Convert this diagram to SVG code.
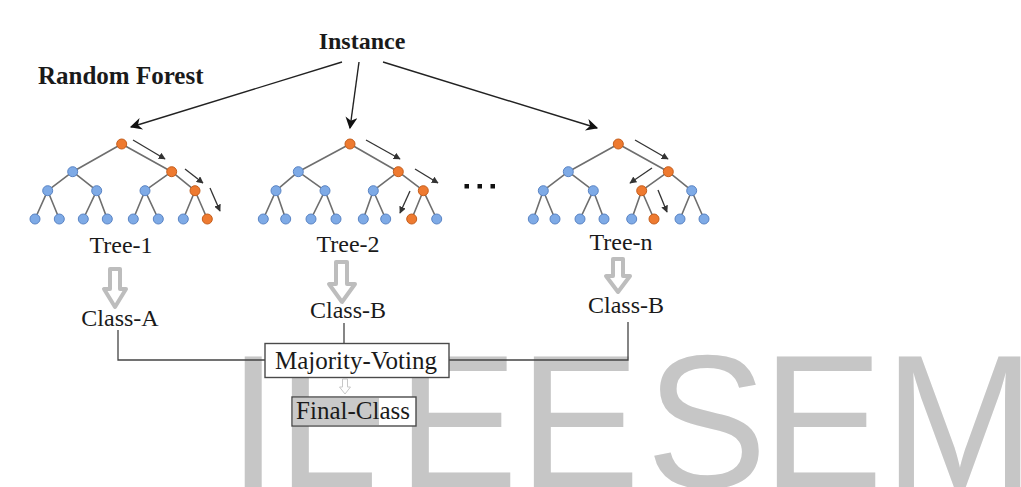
<svg xmlns="http://www.w3.org/2000/svg" width="1021" height="487" viewBox="0 0 1021 487">
<defs>
<style>
.bg{fill:#ffffff}
.wm{font-family:"Liberation Sans",Arial,sans-serif;font-size:189px;fill:#c6c6c6}
.lbl{font-family:"Liberation Serif","Times New Roman",serif;font-size:24px;fill:#1a1a1a;text-anchor:middle}
.bold{font-weight:bold}
.edge{stroke:#6e6e6e;stroke-width:1.6;fill:none}
.b{fill:#7eaae6;stroke:#5a84c4;stroke-width:1}
.o{fill:#ee7a30;stroke:#c55e1c;stroke-width:1}
.tarr{stroke:#333;stroke-width:1.3;fill:none;marker-end:url(#sh)}
.iarr{stroke:#222;stroke-width:1.4;fill:none;marker-end:url(#bh)}
.conn{stroke:#444;stroke-width:1.3;fill:none}
.blk{fill:#ffffff;stroke:#bdbdbd;stroke-width:4;stroke-linejoin:round}
.box{fill:#ffffff;stroke:#4a4a4a;stroke-width:1.4}
</style>
<marker id="sh" viewBox="0 0 10 10" refX="9" refY="5" markerWidth="7" markerHeight="7" markerUnits="userSpaceOnUse" orient="auto"><path d="M0,0 L10,5 L0,10 z" fill="#333"/></marker>
<marker id="bh" viewBox="0 0 10 10" refX="9" refY="5" markerWidth="14" markerHeight="12" markerUnits="userSpaceOnUse" orient="auto"><path d="M0,0 L10,5 L0,10 L3,5 z" fill="#111"/></marker>
</defs>
<rect class="bg" x="0" y="0" width="1021" height="487"/>

<g id="watermark">
<text class="wm" transform="translate(228,487) scale(0.96,1)">I</text>
<text class="wm" transform="translate(277,487) scale(0.96,1)">L</text>
<text class="wm" transform="translate(397,487) scale(0.96,1)">E</text>
<text class="wm" transform="translate(519,487) scale(0.96,1)">E</text>
<text class="wm" transform="translate(646,487) scale(0.96,1)">S</text>
<text class="wm" transform="translate(762,487) scale(0.96,1)">E</text>
<text class="wm" transform="translate(884,487) scale(0.96,1)">M</text>
</g>

<g id="title">
<text class="lbl bold" x="38" y="84" style="text-anchor:start;font-size:25px">Random Forest</text>
</g>
<g id="instance">
<text class="lbl bold" x="362" y="49">Instance</text>
</g>

<g id="connectors">
<line class="iarr" x1="342" y1="62" x2="131" y2="127"/>
<line class="iarr" x1="359" y1="62" x2="350" y2="128"/>
<line class="iarr" x1="383" y1="62" x2="597" y2="128"/>
<polyline class="conn" points="118,330 118,360 265,360"/>
<line class="conn" x1="344" y1="323" x2="344" y2="343.5"/>
<polyline class="conn" points="628,322 628,360 449,360"/>
<path class="blk" d="M110,269 h10 v20 h6 l-11,18 l-11,-18 h6 z"/>
<path class="blk" d="M336,262 h11 v22 h8 l-13,18 l-13,-18 h7 z"/>
<path class="blk" d="M613,259 h10 v17 h7 l-12,16 l-12,-16 h7 z"/>
<path d="M342.5,379 h5 v8 h3 l-5.5,7 l-5.5,-7 h3 z" fill="#fff" stroke="#c8c8c8" stroke-width="1"/>
</g>

<g id="tree-1">
<path class="edge" d="M121.7,144 L72.7,171.7 M121.7,144 L171.7,171.7 M72.7,171.7 L47.7,190.7 M72.7,171.7 L96.7,190.7 M171.7,171.7 L145,190.7 M171.7,171.7 L195,190.7 M47.7,190.7 L35,219 M47.7,190.7 L59.3,219 M96.7,190.7 L83.3,219 M96.7,190.7 L107.3,219 M145,190.7 L133.3,219 M145,190.7 L158.3,219 M195,190.7 L183.3,219 M195,190.7 L207.3,219"/>
<circle class="o" cx="121.7" cy="144" r="5"/>
<circle class="b" cx="72.7" cy="171.7" r="5"/>
<circle class="o" cx="171.7" cy="171.7" r="5"/>
<circle class="b" cx="47.7" cy="190.7" r="5"/>
<circle class="b" cx="96.7" cy="190.7" r="5"/>
<circle class="b" cx="145" cy="190.7" r="5"/>
<circle class="o" cx="195" cy="190.7" r="5"/>
<circle class="b" cx="35" cy="219" r="5"/>
<circle class="b" cx="59.3" cy="219" r="5"/>
<circle class="b" cx="83.3" cy="219" r="5"/>
<circle class="b" cx="107.3" cy="219" r="5"/>
<circle class="b" cx="133.3" cy="219" r="5"/>
<circle class="b" cx="158.3" cy="219" r="5"/>
<circle class="b" cx="183.3" cy="219" r="5"/>
<circle class="o" cx="207.3" cy="219" r="5"/>
<line class="tarr" x1="133" y1="140" x2="165" y2="159"/>
<line class="tarr" x1="185" y1="169" x2="203" y2="183"/>
<line class="tarr" x1="210" y1="188" x2="220" y2="211"/>
<text class="lbl" x="121" y="253">Tree-1</text>
</g>

<g id="tree-2">
<path class="edge" d="M350,144 L298.3,171.7 M350,144 L398.3,171.7 M298.3,171.7 L276,190.7 M298.3,171.7 L325,190.7 M398.3,171.7 L373.3,190.7 M398.3,171.7 L423.3,190.7 M276,190.7 L263.3,219 M276,190.7 L285.7,219 M325,190.7 L311,219 M325,190.7 L336,219 M373.3,190.7 L363.3,219 M373.3,190.7 L385.7,219 M423.3,190.7 L411.7,219 M423.3,190.7 L436.7,219"/>
<circle class="o" cx="350" cy="144" r="5"/>
<circle class="b" cx="298.3" cy="171.7" r="5"/>
<circle class="o" cx="398.3" cy="171.7" r="5"/>
<circle class="b" cx="276" cy="190.7" r="5"/>
<circle class="b" cx="325" cy="190.7" r="5"/>
<circle class="b" cx="373.3" cy="190.7" r="5"/>
<circle class="o" cx="423.3" cy="190.7" r="5"/>
<circle class="b" cx="263.3" cy="219" r="5"/>
<circle class="b" cx="285.7" cy="219" r="5"/>
<circle class="b" cx="311" cy="219" r="5"/>
<circle class="b" cx="336" cy="219" r="5"/>
<circle class="b" cx="363.3" cy="219" r="5"/>
<circle class="b" cx="385.7" cy="219" r="5"/>
<circle class="o" cx="411.7" cy="219" r="5"/>
<circle class="b" cx="436.7" cy="219" r="5"/>
<line class="tarr" x1="366" y1="140" x2="400" y2="159"/>
<line class="tarr" x1="415" y1="169" x2="438" y2="183"/>
<line class="tarr" x1="410" y1="191" x2="400" y2="213"/>
<text class="lbl" x="348" y="252">Tree-2</text>
</g>

<g id="ellipsis">
<rect x="464.5" y="184" width="4.5" height="4.5" fill="#111"/>
<rect x="477.5" y="184" width="4.5" height="4.5" fill="#111"/>
<rect x="490.5" y="184" width="4.5" height="4.5" fill="#111"/>
</g>

<g id="tree-n">
<path class="edge" d="M618.3,144 L568.3,171.7 M618.3,144 L668.3,171.7 M568.3,171.7 L543.3,190.7 M568.3,171.7 L593.3,190.7 M668.3,171.7 L641.7,190.7 M668.3,171.7 L691.7,190.7 M543.3,190.7 L533.3,219 M543.3,190.7 L555,219 M593.3,190.7 L580,219 M593.3,190.7 L604,219 M641.7,190.7 L631.7,219 M641.7,190.7 L654,219 M691.7,190.7 L680,219 M691.7,190.7 L704,219"/>
<circle class="o" cx="618.3" cy="144" r="5"/>
<circle class="b" cx="568.3" cy="171.7" r="5"/>
<circle class="o" cx="668.3" cy="171.7" r="5"/>
<circle class="b" cx="543.3" cy="190.7" r="5"/>
<circle class="b" cx="593.3" cy="190.7" r="5"/>
<circle class="o" cx="641.7" cy="190.7" r="5"/>
<circle class="b" cx="691.7" cy="190.7" r="5"/>
<circle class="b" cx="533.3" cy="219" r="5"/>
<circle class="b" cx="555" cy="219" r="5"/>
<circle class="b" cx="580" cy="219" r="5"/>
<circle class="b" cx="604" cy="219" r="5"/>
<circle class="b" cx="631.7" cy="219" r="5"/>
<circle class="o" cx="654" cy="219" r="5"/>
<circle class="b" cx="680" cy="219" r="5"/>
<circle class="b" cx="704" cy="219" r="5"/>
<line class="tarr" x1="635" y1="140" x2="668" y2="159"/>
<line class="tarr" x1="652" y1="168" x2="630" y2="183"/>
<line class="tarr" x1="658" y1="190" x2="667" y2="212"/>
<text class="lbl" x="621" y="250">Tree-n</text>
</g>

<g id="class-a"><text class="lbl" x="120" y="326">Class-A</text></g>
<g id="class-b"><text class="lbl" x="348" y="318">Class-B</text></g>
<g id="class-b-n"><text class="lbl" x="626" y="313">Class-B</text></g>

<g id="majority-voting">
<rect class="box" x="265" y="343.5" width="184" height="34"/>
<text class="lbl" x="356" y="369" style="font-size:25px">Majority-Voting</text>
</g>

<g id="final-class">
<rect class="box" x="292" y="397" width="124" height="29"/>
<rect x="293" y="398" width="86" height="27" fill="#c9c9c9"/>
<text class="lbl" x="353" y="419" style="font-size:25px">Final-Class</text>
</g>
</svg>
